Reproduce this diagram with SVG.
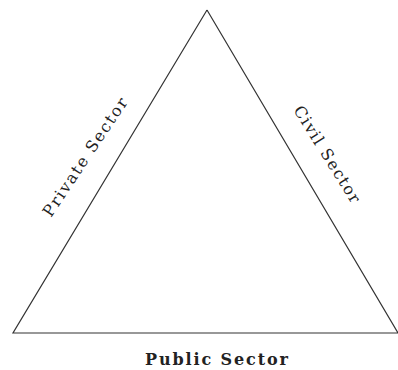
<svg xmlns="http://www.w3.org/2000/svg" width="398" height="370" viewBox="0 0 398 370">
<style>
.edge{fill:none;stroke:#333;stroke-width:1.2}
.lbl{font-family:"DejaVu Serif","Liberation Serif",serif;font-size:16px;fill:#222}
.b{font-weight:bold;font-size:16px}
</style>
<rect width="398" height="370" fill="#fff"/>
<g id="connectors">
<path class="edge" d="M207,10 L13,333 L398,333 M207,10 L398,333"/>
</g>
<g id="private"><text class="lbl" transform="translate(51,218) rotate(-56.3)" textLength="139" lengthAdjust="spacing">Private Sector</text></g>
<g id="civil"><text class="lbl" transform="translate(293,110) rotate(58)" textLength="111" lengthAdjust="spacing">Civil Sector</text></g>
<g id="public"><text class="lbl b" x="145" y="365" textLength="143" lengthAdjust="spacing">Public Sector</text></g>
</svg>
